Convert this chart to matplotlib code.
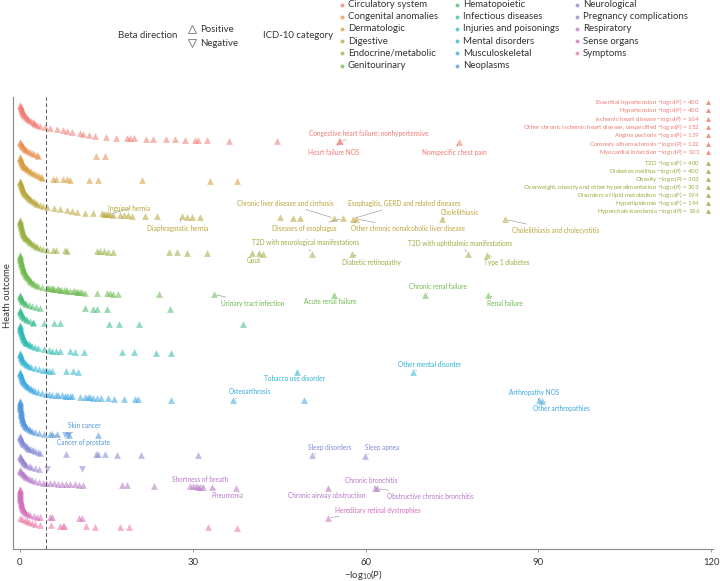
import numpy as np
import matplotlib.pyplot as plt

plt.rcParams['font.family'] = ['Lato', 'DejaVu Sans']
plt.rcParams['mathtext.fontset'] = 'custom'
plt.rcParams['mathtext.rm'] = 'Lato'
plt.rcParams['mathtext.it'] = 'Lato:italic'

categories = ["Circulatory system", "Congenital anomalies", "Dermatologic", "Digestive",
              "Endocrine/metabolic", "Genitourinary", "Hematopoietic", "Infectious diseases",
              "Injuries and poisonings", "Mental disorders", "Musculoskeletal", "Neoplasms",
              "Neurological", "Pregnancy complications", "Respiratory", "Sense organs", "Symptoms"]
colors = ["#F07B72", "#E88B4C", "#D79A3A", "#B7A537", "#96AF3E", "#6CBA4E", "#4BBB70",
          "#36BC92", "#2CBBB2", "#2DB3CF", "#3AA7E0", "#4E95DB", "#8289D5", "#9A80CE",
          "#B777C6", "#D36CB8", "#EC73A0"]

# -log10(P) per outcome, sorted ascending inside each category.
# *_curve: every 4th outcome of the dense part, *_tail: every outcome of the sparse end
circ_curve = [0.0, 0.1, 0.15, 0.2, 0.25, 0.3, 0.35, 0.4, 0.5, 0.6, 0.75, 0.9, 1.0, 1.2, 1.4, 1.6,
              1.9, 2.2, 2.4, 2.7, 3.0, 3.5, 4.3, 5.2, 6.5, 7.5, 8.2, 9.0, 10.4, 11.0, 12.0, 13.0, 15.0]
circ_tail = [16.7, 18.6, 19.1, 19.8, 21.9, 23.1, 25.3, 26.9, 28.6, 30.4, 30.9, 32.5, 36.3,
             44.6, 55.4, 55.6, 76.2]
cong_curve = [0.0, 0.1, 0.2, 0.3, 0.4, 0.5, 0.7, 0.9, 1.1, 1.4, 1.7, 2.1, 2.5, 3.0]
cong_tail = [3.2, 13.2, 14.8]
derm_curve = [0.0, 0.05, 0.1, 0.15, 0.2, 0.25, 0.3, 0.4, 0.5, 0.6, 0.7, 0.85, 1.0, 1.2, 1.4,
              1.7, 2.0, 2.3, 2.7, 3.0, 3.3, 3.6]
derm_tail = [3.9, 5.7, 6.3, 7.5, 8.2, 8.7, 12.0, 13.5, 21.2, 33.0, 37.7]
dig_curve = [0.0, 0.05, 0.1, 0.15, 0.2, 0.25, 0.3, 0.35, 0.4, 0.45, 0.55, 0.65, 0.75, 0.9,
             1.0, 1.2, 1.4, 1.6, 1.8, 1.9, 2.2, 2.5, 2.8, 3.0, 3.5, 4.0, 4.7, 6.0, 7.0, 8.2, 9.0, 9.9]
dig_tail = [11.3, 12.7, 14.2, 14.6, 14.9, 15.3, 15.6, 16.1, 17.4, 18.1, 18.8, 19.4, 21.7, 23.8,
            28.1, 29.0, 29.9, 31.3, 45.1, 47.4, 48.6, 54.5, 56.1, 57.8, 58.3, 73.3, 84.2]
endo_curve = [0.0, 0.0, 0.05, 0.1, 0.1, 0.15, 0.2, 0.2, 0.25, 0.3, 0.3, 0.35, 0.4, 0.45, 0.5,
              0.6, 0.7, 0.8, 0.9, 1.0, 1.2, 1.4, 1.6, 1.8, 1.9, 2.2, 2.5, 2.8, 3.0, 3.4]
endo_tail = [4.0, 4.7, 5.7, 6.3, 7.8, 8.2, 13.4, 13.9, 14.6, 15.3, 16.1, 25.9, 27.3, 29.0, 32.5,
             40.3, 41.5, 42.2, 50.7, 57.6, 77.8, 81.1]
gen_curve = [0.0, 0.0, 0.05, 0.05, 0.1, 0.1, 0.15, 0.2, 0.2, 0.25, 0.3, 0.35, 0.4, 0.45, 0.5,
             0.55, 0.6, 0.7, 0.8, 0.9, 1.0, 1.1, 1.2, 1.4, 1.5, 1.7, 1.8, 1.9, 2.2, 2.5, 2.8, 3.2, 3.9]
gen_tail = [4.7, 4.9, 5.2, 5.5, 5.7, 6.0, 6.4, 6.6, 6.9, 7.2, 7.6, 8.0, 8.2, 8.7, 9.2, 9.6, 9.9,
            10.0, 10.4, 10.8, 11.3, 13.4, 15.1, 15.6, 16.1, 17.0, 24.1, 33.7, 54.5, 70.3, 81.3]
hema_curve = [0.0, 0.05, 0.1, 0.15, 0.2, 0.3, 0.4, 0.5, 0.8, 1.1, 1.5, 2.1, 2.8]
hema_tail = [3.5, 11.3, 12.7, 13.4, 15.1, 26.0]
inf_curve = [0.0, 0.05, 0.1, 0.15, 0.2, 0.3, 0.4, 0.5, 0.7, 1.0, 1.3, 1.7, 2.2]
inf_tail = [2.3, 4.2, 5.9, 6.9, 15.5, 17.2, 20.7, 38.7]
inj_curve = [0.0, 0.0, 0.05, 0.05, 0.1, 0.1, 0.15, 0.2, 0.25, 0.3, 0.35, 0.4, 0.45, 0.5, 0.6,
             0.7, 0.8, 0.9, 1.0, 1.2, 1.5, 1.8, 2.1, 2.6, 3.2, 4.2]
inj_tail = [5.0, 5.6, 6.2, 7.0, 8.7, 9.5, 11.1, 17.7, 19.8, 23.6, 26.2]
ment_curve = [0.0, 0.05, 0.1, 0.15, 0.2, 0.25, 0.3, 0.4, 0.5, 0.6, 0.8, 1.0, 1.3, 1.6, 2.0, 2.6, 3.3]
ment_tail = [4.0, 4.5, 5.0, 5.6, 8.0, 9.2, 10.1, 48.1, 68.2]
musc_curve = [0.0, 0.05, 0.1, 0.15, 0.2, 0.25, 0.3, 0.35, 0.4, 0.5, 0.6, 0.7, 0.8, 1.0, 1.2,
              1.4, 1.7, 2.0, 2.3, 2.7, 3.2, 3.9]
musc_tail = [4.6, 5.0, 5.6, 6.2, 6.6, 7.3, 7.8, 8.2, 8.7, 9.0, 10.4, 11.3, 11.8, 12.2, 12.7,
             13.4, 14.1, 15.3, 16.3, 18.1, 19.9, 20.5, 26.2, 37.0, 49.3, 90.1, 90.6]
neo_curve = [0.0, 0.0, 0.0, 0.05, 0.05, 0.05, 0.1, 0.1, 0.1, 0.15, 0.15, 0.15, 0.2, 0.2, 0.25,
             0.25, 0.3, 0.3, 0.35, 0.4, 0.45, 0.5, 0.6, 0.7, 0.8, 0.9, 1.0, 1.2, 1.5, 1.8, 2.1, 2.6, 3.3]
neo_tail = [4.2, 5.2, 5.6, 6.4, 7.8, 8.3, 8.5, 13.5]
neur_curve = [0.0, 0.05, 0.1, 0.15, 0.2, 0.3, 0.4, 0.5, 0.6, 0.8, 1.0, 1.2, 1.4, 1.6, 1.9, 2.2, 2.6, 3.1]
neur_tail = [3.5, 8.0, 13.2, 13.5, 14.8, 16.8, 21.0, 30.9, 50.7, 59.9]
preg_curve = [0.0, 0.1, 0.15, 0.25, 0.35, 0.45, 0.55, 0.7, 0.9, 1.1, 1.5, 2.0, 2.6]
preg_tail = [3.3, 4.7, 10.8]
resp_curve = [0.0, 0.1, 0.2, 0.35, 0.5, 0.7, 0.9, 1.1, 1.4, 1.7, 2.1, 2.6, 3.3]
resp_tail = [4.0, 4.5, 5.2, 5.9, 6.6, 7.3, 8.0, 8.7, 9.5, 10.2, 11.0, 17.7, 18.6, 23.3, 29.5,
             30.0, 30.5, 30.9, 31.3, 31.8, 33.3, 37.5, 53.5, 61.6, 62.0]
sens_curve = [0.0, 0.0, 0.0, 0.0, 0.0, 0.05, 0.05, 0.05, 0.05, 0.1, 0.1, 0.1, 0.15, 0.15, 0.2,
              0.2, 0.25, 0.3, 0.35, 0.4, 0.5, 0.6, 0.7, 0.9, 1.1, 1.4, 1.8, 2.4]
sens_tail = [3.0, 3.5, 5.2, 5.6, 10.2, 10.8, 53.5]
symp_curve = [0.0, 0.4, 0.8, 1.2, 1.6, 2.1, 2.6]
symp_tail = [3.5, 5.4, 6.9, 7.5, 7.6, 11.5, 13.0, 17.4, 18.9, 32.6, 37.7]

curves = [circ_curve, cong_curve, derm_curve, dig_curve, endo_curve, gen_curve, hema_curve,
          inf_curve, inj_curve, ment_curve, musc_curve, neo_curve, neur_curve, preg_curve,
          resp_curve, sens_curve, symp_curve]
tails = [circ_tail, cong_tail, derm_tail, dig_tail, endo_tail, gen_tail, hema_tail, inf_tail,
         inj_tail, ment_tail, musc_tail, neo_tail, neur_tail, preg_tail, resp_tail, sens_tail,
         symp_tail]
# outcomes with negative beta (category index -> values)
negative = {11: [7.8, 8.3], 13: [4.7, 10.8]}

# associations off the x range (-log10 P capped at 400)
circ_off = ["Essential hypertension", "Hypertension", "Ischemic heart disease",
            "Other chronic ischemic heart disease, unspecified", "Angina pectoris",
            "Coronary atherosclerosis", "Myocardial infarction"]
circ_off_p = [400, 400, 164, 152, 139, 122, 101]
endo_off = ["T2D", "Diabetes mellitus", "Obesity", "Overweight, obesity and other hyperalimentation",
            "Disorders of lipid metabolism", "Hyperlipidemia", "Hypercholesterolemia"]
endo_off_p = [400, 400, 303, 303, 194, 194, 186]

# (category, -log10 P, label, text offset x, y in px)
annotations = [
    (0, 55.6, "Congestive heart failure; nonhypertensive", 29, 8),
    (0, 55.4, "Heart failure NOS", -5, -11),
    (0, 76.2, "Nonspecific chest pain", -5, -11),
    (3, 15.6, "Inguinal hernia", 19, 6),
    (3, 28.1, "Diaphragmatic hernia", -4, -12),
    (3, 54.5, "Chronic liver disease and cirrhosis", -49, 15),
    (3, 57.8, "Esophagitis, GERD and related diseases", 51, 15),
    (3, 56.1, "Diseases of esophagus", -39, -10),
    (3, 58.3, "Other chronic nonalcoholic liver disease", 52, -10),
    (3, 73.3, "Cholelithiasis", 18, 7),
    (3, 84.2, "Cholelithiasis and cholecystitis", 51, -11),
    (4, 50.7, "T2D with neurological manifestations", -6, 11),
    (4, 41.5, "Gout", -5, -7),
    (4, 57.6, "Diabetic retinopathy", 20, -8),
    (4, 77.8, "T2D with ophthalmic manifestations", -8, 11),
    (4, 81.1, "Type 1 diabetes", 20, -8),
    (5, 33.7, "Urinary tract infection", 39, -9),
    (5, 54.5, "Acute renal failure", -4, -7),
    (5, 70.3, "Chronic renal failure", 13, 8),
    (5, 81.3, "Renal failure", 17, -8),
    (9, 48.1, "Tobacco use disorder", -3, -7),
    (9, 68.2, "Other mental disorder", 17, 8),
    (10, 37.0, "Osteoarthrosis", 17, 8),
    (10, 90.1, "Arthropathy NOS", -5, 8),
    (10, 90.6, "Other arthropathies", 20, -8),
    (11, 8.3, "Skin cancer", 17, 9),
    (11, 5.2, "Cancer of prostate", 34, -9),
    (12, 50.7, "Sleep disorders", 18, 8),
    (12, 59.9, "Sleep apnea", 17, 8),
    (14, 31.8, "Shortness of breath", -3, 8),
    (14, 33.3, "Pneumonia", 16, -8),
    (14, 53.5, "Chronic airway obstruction", -1, -8),
    (14, 61.6, "Chronic bronchitis", -4, 8),
    (14, 62.0, "Obstructive chronic bronchitis", 53, -8),
    (15, 53.5, "Hereditary retinal dystrophies", 50, 8),
]

threshold = 4.5
step = 4

fig = plt.figure(figsize=(7.2, 5.81), dpi=100)
ax = fig.add_axes([13 / 720, 32 / 581, 700 / 720, 452 / 581])

start = 0
points = []
for i, (cv, tv) in enumerate(zip(curves, tails)):
    vals = np.array(cv + tv)
    ranks = np.concatenate([start + step * np.arange(len(cv)),
                            start + step * len(cv) + np.arange(len(tv))])
    neg = np.isin(vals, negative.get(i, []))
    ax.scatter(vals[~neg], ranks[~neg], marker='^', s=24, color=colors[i], alpha=0.55, lw=0)
    ax.scatter(vals[neg], ranks[neg], marker='v', s=24, color=colors[i], alpha=0.55, lw=0)
    points.append((vals, ranks))
    start = ranks[-1] + 1

for ci, v, label, dx, dy in annotations:
    vals, ranks = points[ci]
    j = np.argmin(np.abs(vals - v))
    ax.annotate(label, xy=(vals[j], ranks[j]), xytext=(dx, dy), textcoords='offset pixels',
                ha='center', va='center', fontsize=4.7, color=colors[ci],
                arrowprops=dict(arrowstyle='-', color='#8c8c8c', lw=0.4, shrinkA=0, shrinkB=2))

ax.axvline(threshold, color='#555555', lw=0.7, ls=(0, (4, 2.5)))
ax.set_xlim(-1.2, 120.3)
ax.set_ylim(start + 21 * 4.04, -32)
ax.set_xticks([0, 30, 60, 90, 120])
ax.set_yticks([])
ax.tick_params(axis='x', length=2.5, width=0.6, color='#888888', labelsize=6.8,
               labelcolor='#333333', pad=4)
for s in ['top', 'right']:
    ax.spines[s].set_visible(False)
for s in ['left', 'bottom']:
    ax.spines[s].set_color('#888888')
    ax.spines[s].set_linewidth(0.8)
ax.set_xlabel("\u2212log$_{10}$($P$)", fontsize=6.8, color='#333333', labelpad=0.5)

# overlay in pixel coordinates for legend and side labels
ov = fig.add_axes([0, 0, 1, 1])
ov.set_xlim(0, 720)
ov.set_ylim(581, 0)
ov.axis('off')

ov.text(8, 296, "Heath outcome", rotation=90, ha='center', va='center', fontsize=6.8, color='#333333')

ov.text(118, 35, "Beta direction", ha='left', va='center', fontsize=6.9, color='#333333')
ov.plot(192, 29, marker='^', ms=6, mfc='none', mec='#777777', mew=0.6)
ov.plot(192, 43, marker='v', ms=6, mfc='none', mec='#777777', mew=0.6)
ov.text(200, 29, "Positive", ha='left', va='center', fontsize=6.9, color='#333333')
ov.text(200, 43, "Negative", ha='left', va='center', fontsize=6.9, color='#333333')
ov.text(263, 35, "ICD-10 category", ha='left', va='center', fontsize=6.9, color='#333333')

for i, name in enumerate(categories):
    col, row = divmod(i, 6)
    x0 = [342, 457, 577][col]
    y0 = 4.5 + row * 12.2
    ov.plot(x0, y0, 'o', ms=2.8, color=colors[i], alpha=0.75, mec='none')
    ov.text(x0 + 6, y0, name, ha='left', va='center', fontsize=6.9, color='#333333')

# off-range associations listed at the right edge, one text block per category
for names, pv, ci, y_first, dy, lsp in [(circ_off, circ_off_p, 0, 102, 8.3, 0.77),
                                        (endo_off, endo_off_p, 4, 163, 8.0, 0.71)]:
    lines = []
    for nm, p in zip(names, pv):
        sign = '>' if p >= 400 else '='
        lines.append(f"{nm} \u2212log$_{{10}}$($P$) {sign} {p}")
    yc = y_first + dy * (len(lines) - 1) / 2
    ov.text(700, yc, "\n".join(lines), ha='right', va='center', multialignment='right',
            linespacing=lsp, fontsize=4.45, color=colors[ci])
    for k in range(len(lines)):
        ov.plot(708, y_first + k * dy, marker='^', ms=3.5, color=colors[ci], mec='none', alpha=0.85)

fig.savefig("out.png", dpi=100)
